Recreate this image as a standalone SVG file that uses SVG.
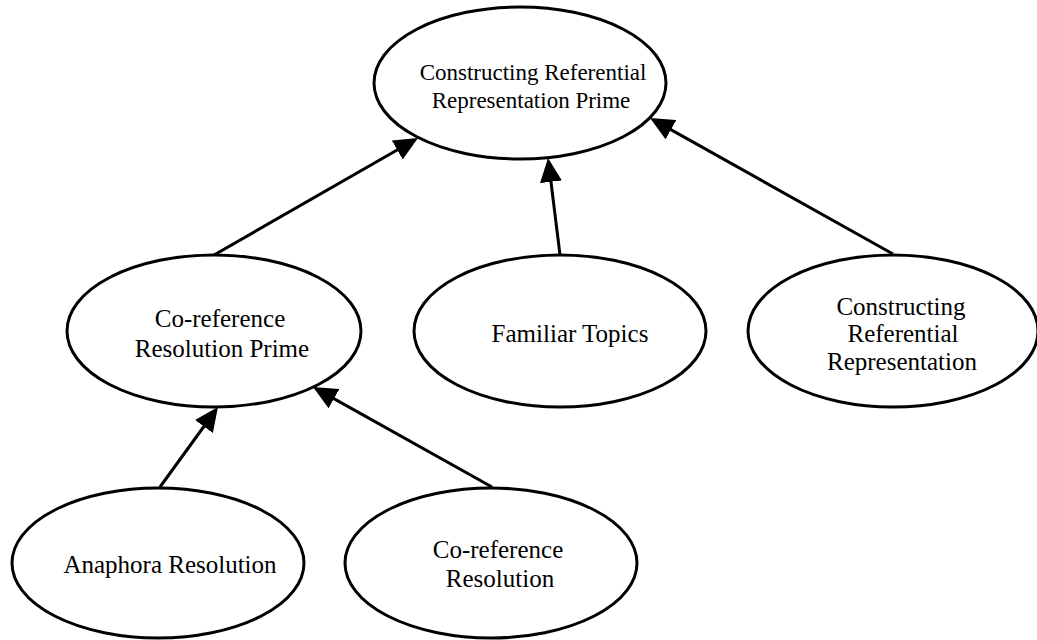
<svg xmlns="http://www.w3.org/2000/svg" width="1037" height="640" viewBox="0 0 1037 640">
<style>
.node ellipse{fill:#fff;stroke:#000;stroke-width:3}
.node text{font-family:"Liberation Serif","Times New Roman",serif;font-size:25px;fill:#000;text-anchor:middle}
.edges line{stroke:#000;stroke-width:3}
</style>
<defs>
<marker id="arr" markerUnits="userSpaceOnUse" markerWidth="24" markerHeight="22" refX="16" refY="11" orient="auto">
<path d="M0,0 L24,11 L0,22 z" fill="#000"/>
</marker>
</defs>
<rect width="1037" height="640" fill="#fff"/>
<g class="edges">
<line x1="214" y1="255" x2="411.1" y2="142" marker-end="url(#arr)"/>
<line x1="560" y1="255" x2="549" y2="165.9" marker-end="url(#arr)"/>
<line x1="893" y1="254" x2="657" y2="121.9" marker-end="url(#arr)"/>
<line x1="160" y1="487" x2="213.3" y2="413.5" marker-end="url(#arr)"/>
<line x1="492" y1="487" x2="320" y2="390.9" marker-end="url(#arr)"/>
</g>
<g id="n-crrp" class="node">
<ellipse cx="520" cy="83" rx="146" ry="76"/>
<text x="533" y="80" style="font-size:23px">Constructing Referential</text>
<text x="531" y="108" style="font-size:23px">Representation Prime</text>
</g>
<g id="n-crp" class="node">
<ellipse cx="214" cy="331" rx="147" ry="76"/>
<text x="220" y="327">Co-reference</text>
<text x="222" y="357">Resolution Prime</text>
</g>
<g id="n-ft" class="node">
<ellipse cx="560" cy="331" rx="146" ry="76"/>
<text x="570" y="342">Familiar Topics</text>
</g>
<g id="n-crr" class="node">
<ellipse cx="893" cy="331" rx="145" ry="76"/>
<text x="901" y="315">Constructing</text>
<text x="903" y="342">Referential</text>
<text x="902" y="370">Representation</text>
</g>
<g id="n-ar" class="node">
<ellipse cx="158" cy="563" rx="146" ry="75"/>
<text x="170" y="573">Anaphora Resolution</text>
</g>
<g id="n-cr" class="node">
<ellipse cx="491" cy="563" rx="146" ry="75"/>
<text x="498" y="558">Co-reference</text>
<text x="500" y="587">Resolution</text>
</g>
</svg>
